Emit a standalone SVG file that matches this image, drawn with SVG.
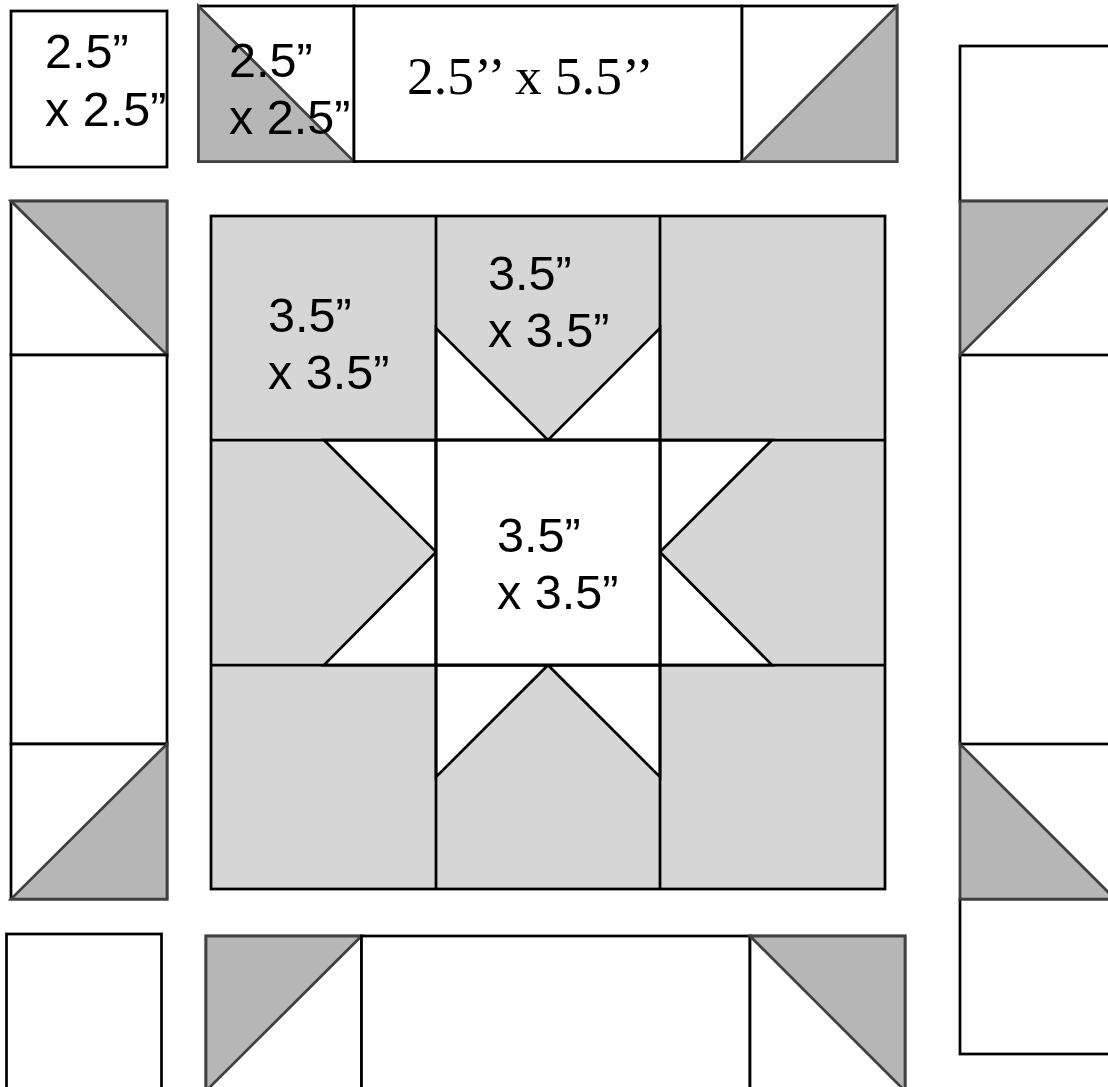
<svg xmlns="http://www.w3.org/2000/svg" width="1108" height="1087" viewBox="0 0 1108 1087">
<style>
.b{fill:#fff;stroke:#000;stroke-width:2.75}
.n{fill:none;stroke:#000;stroke-width:2.75}
.g{fill:#b6b6b6;stroke:#404040;stroke-width:2.75;stroke-linejoin:miter}
.c{fill:#d6d6d6;stroke:#000;stroke-width:2.75}
.w{fill:#fff;stroke:#000;stroke-width:2.75}
text{font-family:"Liberation Sans",Arial,sans-serif;font-size:48.500px;fill:#000}
text.s{font-family:"Liberation Serif","Times New Roman",serif;font-size:53.500px}
</style>
<rect width="1108" height="1087" fill="#fff"/>
<g id="corner-tl"><rect class="b" x="11" y="11" width="156" height="156"/><text x="45" y="68">2.5”</text><text x="45" y="126">x 2.5”</text></g>
<g id="top-row">
<rect class="b" x="198.500" y="6" width="155.500" height="155.500"/>
<polygon class="g" points="198.500,6 198.500,161.500 354,161.500"/>
<rect class="b" x="354" y="6" width="388" height="155.500"/>
<rect class="b" x="742" y="6" width="155" height="155.500"/>
<polygon class="g" points="897,6 897,161.500 742,161.500"/>
<text x="229" y="77">2.5”</text><text x="229" y="134">x 2.5”</text>
<text class="s" x="407" y="94">2.5’’ x 5.5’’</text>
</g>
<g id="left-column">
<rect class="b" x="11" y="201" width="156" height="154"/>
<polygon class="g" points="11,201 167,201 167,355"/>
<rect class="b" x="11" y="355" width="156" height="389"/>
<rect class="b" x="11" y="744" width="156" height="155"/>
<polygon class="g" points="167,744 167,899 11,899"/>
</g>
<g id="center-block">
<rect class="c" x="211" y="216" width="674" height="673"/>
<g id="star-points">
<polygon class="w" points="436,328 436,440 548,440"/><polygon class="w" points="660,328 660,440 548,440"/>
<polygon class="w" points="324,440 436,440 436,552"/><polygon class="w" points="324,665 436,665 436,552"/>
<polygon class="w" points="772,440 660,440 660,552"/><polygon class="w" points="772,665 660,665 660,552"/>
<polygon class="w" points="436,777 436,665 548,665"/><polygon class="w" points="660,777 660,665 548,665"/>
</g>
<rect class="w" x="436" y="440" width="224" height="225"/>
<path class="n" d="M436 216V889M660 216V889M211 440H885M211 665H885"/>
<text x="268" y="332">3.5”</text><text x="268" y="389">x 3.5”</text>
<text x="488" y="290">3.5”</text><text x="488" y="347">x 3.5”</text>
<text x="497" y="552">3.5”</text><text x="497" y="609">x 3.5”</text>
</g>
<g id="corner-bl"><rect class="b" x="6.500" y="934" width="155" height="170"/></g>
<g id="bottom-row">
<rect class="b" x="206" y="936" width="155.500" height="170"/>
<polygon class="g" points="206,936 361.500,936 206,1091"/>
<rect class="b" x="361.500" y="936" width="388.500" height="170"/>
<rect class="b" x="750" y="936" width="155" height="170"/>
<polygon class="g" points="750,936 905,936 905,1091"/>
</g>
<g id="right-column">
<rect class="b" x="960" y="46" width="170" height="155"/>
<rect class="b" x="960" y="355" width="170" height="389"/>
<rect class="b" x="960" y="899" width="170" height="155"/>
<polygon class="g" points="960,201 1115,201 960,355"/>
<polygon class="g" points="960,744 960,899 1115,899"/>
</g>
</svg>
